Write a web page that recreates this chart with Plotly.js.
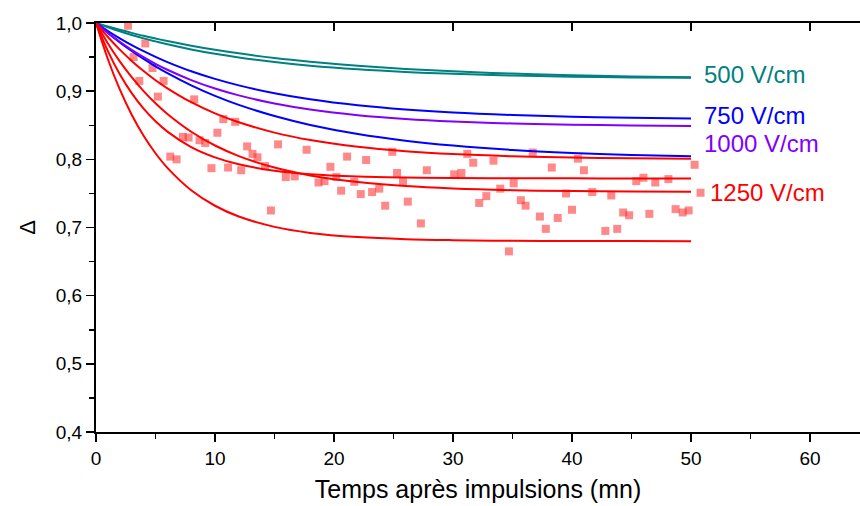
<!DOCTYPE html>
<html>
<head>
<meta charset="utf-8">
<script src="https://cdn.plot.ly/plotly-3.0.1.min.js"></script>
<style>html,body{margin:0;padding:0;background:#fff;}#chart{width:860px;height:506px;}</style>
</head>
<body>
<div id="chart"></div>
<script>
// Time points (mn) at which fitted curves were read
const tFit = [0, 1, 2, 3, 4, 5, 6, 8, 10, 12, 15, 18, 22, 26, 30, 35, 40, 45, 50];

// 500 V/cm (teal, two curves)
const v500a = [1, 0.9948, 0.9900, 0.9855, 0.9812, 0.9772, 0.9735, 0.9667, 0.9607, 0.9555, 0.9487, 0.9432, 0.9373, 0.9327, 0.9291, 0.9258, 0.9234, 0.9216, 0.9204];
const v500b = [1, 0.9937, 0.9879, 0.9825, 0.9775, 0.9730, 0.9687, 0.9612, 0.9548, 0.9494, 0.9427, 0.9374, 0.9321, 0.9282, 0.9254, 0.9230, 0.9213, 0.9202, 0.9195];
// 750 V/cm (blue, two curves)
const v750a = [1, 0.9883, 0.9775, 0.9676, 0.9586, 0.9503, 0.9427, 0.9292, 0.9180, 0.9085, 0.8970, 0.8881, 0.8793, 0.8731, 0.8687, 0.8650, 0.8625, 0.8609, 0.8599];
const v750b = [1, 0.9853, 0.9716, 0.9590, 0.9473, 0.9364, 0.9264, 0.9085, 0.8931, 0.8799, 0.8635, 0.8505, 0.8372, 0.8274, 0.8202, 0.8137, 0.8094, 0.8064, 0.8044];
// 1000 V/cm (purple)
const v1000 = [1, 0.9855, 0.9724, 0.9606, 0.9499, 0.9402, 0.9314, 0.9163, 0.9039, 0.8938, 0.8819, 0.8731, 0.8648, 0.8593, 0.8556, 0.8526, 0.8508, 0.8497, 0.8490];
// 1250 V/cm (red, four curves)
const v1250a = [1, 0.9794, 0.9609, 0.9444, 0.9295, 0.9161, 0.9042, 0.8838, 0.8674, 0.8543, 0.8392, 0.8283, 0.8183, 0.8119, 0.8077, 0.8045, 0.8026, 0.8015, 0.8009];
const v1250b = [1, 0.9587, 0.9248, 0.8971, 0.8744, 0.8559, 0.8407, 0.8180, 0.8029, 0.7927, 0.7834, 0.7782, 0.7748, 0.7733, 0.7726, 0.7722, 0.7721, 0.7720, 0.7720];
const v1250c = [1, 0.9700, 0.9437, 0.9205, 0.9001, 0.8822, 0.8665, 0.8405, 0.8203, 0.8048, 0.7879, 0.7764, 0.7666, 0.7607, 0.7572, 0.7547, 0.7534, 0.7527, 0.7524];
const v1250d = [1, 0.9468, 0.9025, 0.8654, 0.8346, 0.8089, 0.7875, 0.7547, 0.7319, 0.7161, 0.7009, 0.6921, 0.6859, 0.6828, 0.6814, 0.6805, 0.6802, 0.6801, 0.6800];

// Experimental points (1250 V/cm)
const expT = [2.69, 3.16, 3.64, 4.14, 4.75, 5.20, 5.68, 6.24, 6.77, 7.30, 7.78, 8.25, 8.70, 9.18, 9.70, 10.2, 10.7, 11.1, 11.7, 12.2,
  12.7, 13.15, 13.57, 14.2, 14.7, 15.3, 15.95, 16.7, 17.7, 18.7, 19.2, 19.7, 20.2, 20.6, 21.1, 21.7, 22.25, 22.7, 23.2, 23.8,
  24.3, 24.9, 25.3, 25.8, 26.2, 27.3, 27.8, 30.1, 30.7, 31.2, 31.7, 32.2, 32.8, 33.4, 33.97, 34.7, 35.1, 35.7, 36.1, 36.7,
  37.3, 37.8, 38.3, 38.8, 39.5, 40.0, 40.5, 41.0, 41.7, 42.8, 43.3, 43.8, 44.3, 44.8, 45.4, 46.0, 46.5, 47.0, 48.1, 48.7,
  49.3, 49.8, 50.3, 50.8];
const expD = [0.996, 0.950, 0.915, 0.970, 0.934, 0.892, 0.915, 0.804, 0.800, 0.833, 0.832, 0.888, 0.828, 0.824, 0.787, 0.839, 0.859, 0.788, 0.855, 0.784,
  0.819, 0.808, 0.803, 0.790, 0.725, 0.822, 0.774, 0.775, 0.814, 0.766, 0.768, 0.789, 0.774, 0.754, 0.804, 0.767, 0.749, 0.799, 0.752, 0.757,
  0.732, 0.811, 0.780, 0.767, 0.738, 0.706, 0.784, 0.778, 0.780, 0.808, 0.795, 0.736, 0.746, 0.798, 0.757, 0.665, 0.765, 0.740, 0.732, 0.810,
  0.716, 0.698, 0.788, 0.714, 0.750, 0.726, 0.801, 0.784, 0.752, 0.695, 0.747, 0.698, 0.722, 0.718, 0.768, 0.773, 0.720, 0.766, 0.771, 0.727,
  0.722, 0.725, 0.792, 0.751];

// Curve labels
const labelText = ['500 V/cm', '750 V/cm', '1000 V/cm', '1250 V/cm'];
const labelX = [50.95, 50.95, 50.95, 51.45];
const labelY = [0.925, 0.865, 0.823, 0.751];

const cTeal = '#008080', cBlue = '#0000ff', cPurple = '#8000ff', cRed = '#ff0000';
const labelColor = [cTeal, cBlue, cPurple, cRed];

function line(y, color) {
  return {x: tFit, y: y, type: 'scatter', mode: 'lines', line: {color: color, width: 2, shape: 'spline', smoothing: 1}, hoverinfo: 'skip', cliponaxis: false};
}

const traces = [
  {x: expT, y: expD, type: 'scatter', mode: 'markers', marker: {symbol: 'square', size: 8, color: 'rgba(255,40,40,0.55)', line: {width: 0}}, cliponaxis: false},
  line(v500a, cTeal), line(v500b, cTeal),
  line(v750a, cBlue), line(v750b, cBlue),
  line(v1000, cPurple),
  line(v1250a, cRed), line(v1250b, cRed), line(v1250c, cRed), line(v1250d, cRed)
];

const fontFam = 'Liberation Sans, Arial, sans-serif';
const annotations = labelText.map((t, i) => ({
  x: labelX[i], y: labelY[i], xref: 'x', yref: 'y', text: t, showarrow: false,
  xanchor: 'left', yanchor: 'middle', font: {size: 24, color: labelColor[i], family: fontFam}
}));

const layout = {
  width: 860, height: 506,
  margin: {l: 96, r: 0, t: 23, b: 74},
  paper_bgcolor: '#fff', plot_bgcolor: '#fff',
  showlegend: false,
  separators: ', ',
  font: {family: fontFam, color: '#000', size: 19},
  xaxis: {
    range: [0, 64.2], dtick: 10, tick0: 0, ticks: 'outside', ticklen: 8, tickwidth: 1.5, tickcolor: '#000',
    showline: true, linecolor: '#000', linewidth: 2, showgrid: false, zeroline: false,
    minor: {dtick: 5, ticks: 'outside', ticklen: 5, tickwidth: 1.5, tickcolor: '#000', showgrid: false},
    tickfont: {size: 19, family: fontFam, color: '#000'},
    title: {text: 'Temps après impulsions (mn)', font: {size: 25, family: fontFam, color: '#000'}, standoff: 13}
  },
  xaxis2: {
    range: [0, 64.2], dtick: 10, tick0: 0, overlaying: 'x', side: 'top', ticks: 'inside', ticklen: 8, tickwidth: 1.5, tickcolor: '#000',
    showline: true, linecolor: '#000', linewidth: 2, showgrid: false, zeroline: false, showticklabels: false
  },
  yaxis: {
    range: [0.4, 1.0], dtick: 0.1, tick0: 0.4, tickformat: '.1f', ticks: 'outside', ticklen: 8, tickwidth: 1.5, tickcolor: '#000',
    showline: true, linecolor: '#000', linewidth: 2, showgrid: false, zeroline: false,
    minor: {dtick: 0.05, ticks: 'outside', ticklen: 5, tickwidth: 1.5, tickcolor: '#000', showgrid: false},
    tickfont: {size: 19, family: fontFam, color: '#000'},
    title: {text: 'Δ', font: {size: 22, family: fontFam, color: '#000'}, standoff: 14}
  },
  annotations: annotations
};

// invisible trace to activate the top axis
traces.push({x: [0], y: [0.4], xaxis: 'x2', yaxis: 'y', type: 'scatter', mode: 'markers', marker: {opacity: 0}, hoverinfo: 'skip', showlegend: false});

Plotly.newPlot('chart', traces, layout, {staticPlot: true, displayModeBar: false});
</script>
</body>
</html>
